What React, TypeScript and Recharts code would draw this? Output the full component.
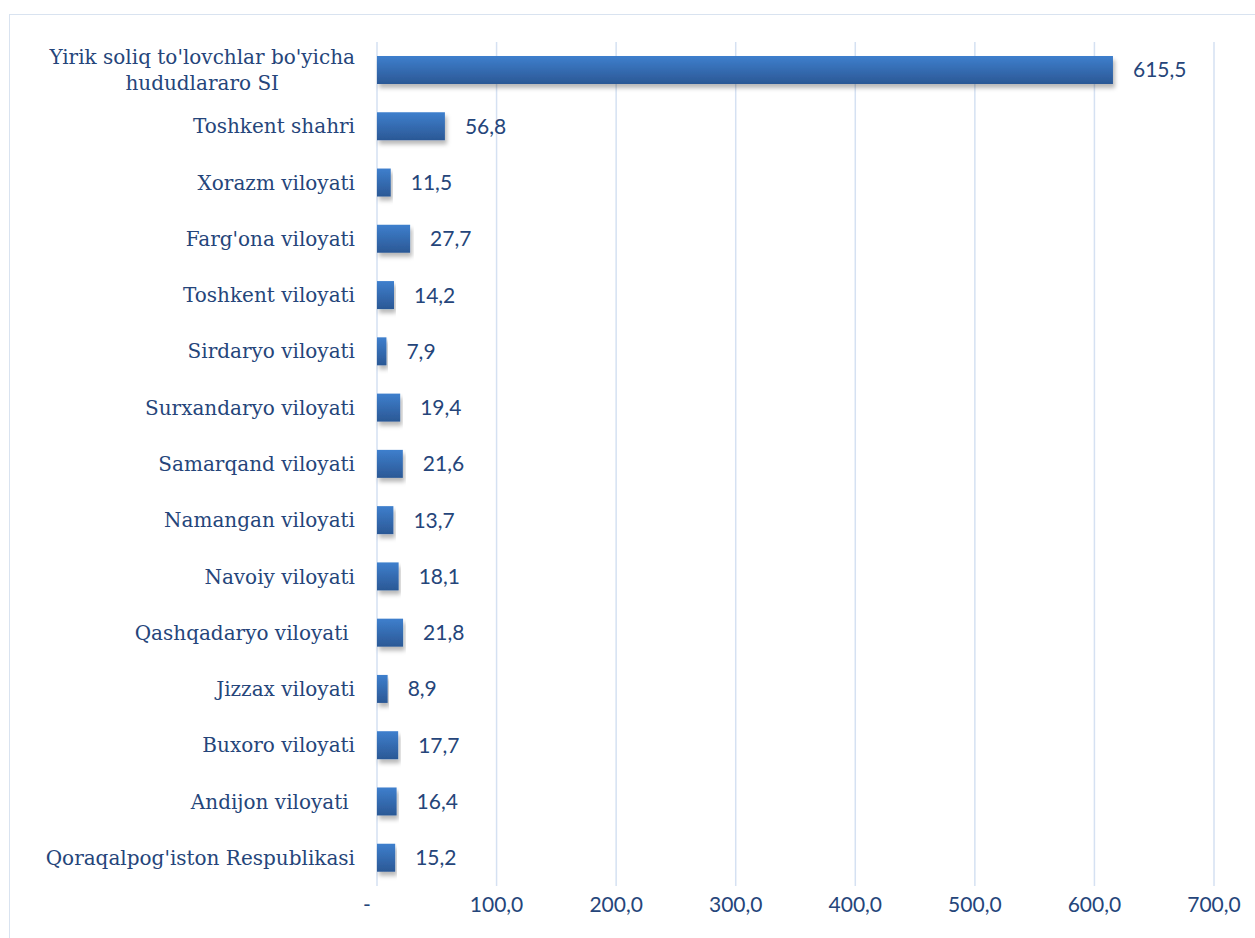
import React from 'react'
import { BarChart, Bar, XAxis, YAxis, CartesianGrid, LabelList } from 'recharts'

const regions: string[] = [
  "Yirik soliq to'lovchlar bo'yicha hududlararo SI",
  'Toshkent shahri',
  'Xorazm viloyati',
  "Farg'ona viloyati",
  'Toshkent viloyati',
  'Sirdaryo viloyati',
  'Surxandaryo viloyati',
  'Samarqand viloyati',
  'Namangan viloyati',
  'Navoiy viloyati',
  'Qashqadaryo viloyati\u00a0',
  'Jizzax viloyati',
  'Buxoro viloyati',
  'Andijon viloyati\u00a0',
  "Qoraqalpog'iston Respublikasi",
]

const amounts: number[] = [615.5, 56.8, 11.5, 27.7, 14.2, 7.9, 19.4, 21.6, 13.7, 18.1, 21.8, 8.9, 17.7, 16.4, 15.2]

const xTicks: number[] = [0, 100, 200, 300, 400, 500, 600, 700]

const data = regions.map((name, i) => ({ name, value: amounts[i] }))

const TEXT = '#25457a'
const LABEL_FONT = "'DejaVu Serif', serif"
const NUM_FONT = "Lato, 'Open Sans', sans-serif"
const LABEL_SIZE = 20
const NUM_SIZE = 21

const fmt = (v: number) => v.toFixed(1).replace('.', ',')

let ctx: CanvasRenderingContext2D | null = null
function textWidth(s: string) {
  if (!ctx) ctx = document.createElement('canvas').getContext('2d')
  if (!ctx) return s.length * 10
  ctx.font = `${LABEL_SIZE}px ${LABEL_FONT}`
  return ctx.measureText(s).width
}

function wrap(s: string, max = 32) {
  const words = s.split(' ')
  const lines: string[] = []
  let cur = ''
  for (const w of words) {
    const next = cur ? cur + ' ' + w : w
    if (next.length > max && cur) {
      lines.push(cur)
      cur = w
    } else cur = next
  }
  if (cur) lines.push(cur)
  return lines
}

function CategoryTick(props: any) {
  const { x, y, payload } = props
  const right = x - 14
  const lines = wrap(payload.value)
  if (lines.length === 1) {
    return (
      <text x={right} y={y} textAnchor="end" dominantBaseline="central" fill={TEXT}
        fontFamily={LABEL_FONT} fontSize={LABEL_SIZE}>{lines[0]}</text>
    )
  }
  const maxW = Math.max(...lines.map(textWidth))
  const cx = right - maxW / 2
  const lh = 26
  const top = y - ((lines.length - 1) * lh) / 2
  return (
    <text textAnchor="middle" fill={TEXT} fontFamily={LABEL_FONT} fontSize={LABEL_SIZE}>
      {lines.map((l, i) => (
        <tspan key={i} x={cx} y={top + i * lh} dominantBaseline="central">{l}</tspan>
      ))}
    </text>
  )
}

function ValueTick(props: any) {
  const { x, y, payload } = props
  const v = payload.value
  return (
    <text x={v === 0 ? x - 10 : x} y={y + 9} textAnchor="middle" dominantBaseline="central"
      fill={TEXT} fontFamily={NUM_FONT} fontSize={NUM_SIZE}>{v === 0 ? '-' : fmt(v)}</text>
  )
}

export default function App() {
  return (
    <div style={{ position: 'absolute', left: 0, top: 0, width: 1255, height: 938, overflow: 'hidden', background: '#fff' }}>
      <div style={{ position: 'absolute', left: 9, top: 14, width: 1260, height: 940, border: '1.5px solid #d9e3f0' }} />
      <div style={{ position: 'absolute', left: 0, top: 0 }}>
        <BarChart width={1255} height={938} data={data} layout="vertical"
          margin={{ top: 42, right: 41, bottom: 0, left: 0 }} barCategoryGap={0}>
          <defs>
            <linearGradient id="barGrad" x1="0" y1="0" x2="0" y2="1">
              <stop offset="0%" stopColor="#3e7fcd" />
              <stop offset="100%" stopColor="#2b5895" />
            </linearGradient>
            <filter id="shadow" x="-5%" y="-20%" width="115%" height="160%">
              <feDropShadow dx="2" dy="4" stdDeviation="2" floodColor="#000" floodOpacity="0.28" />
            </filter>
          </defs>
          <CartesianGrid horizontal={false} vertical stroke="#d5e1f2" strokeWidth={1.5} />
          <XAxis type="number" domain={[0, 700]} ticks={xTicks} height={52}
            axisLine={false} tickLine={false} tick={<ValueTick />} interval={0} />
          <YAxis type="category" dataKey="name" width={377} axisLine={false} tickLine={false}
            tick={<CategoryTick />} interval={0} />
          <Bar dataKey="value" barSize={28} fill="url(#barGrad)" filter="url(#shadow)" isAnimationActive={false}>
            <LabelList dataKey="value" position="right" offset={20} formatter={(v: any) => fmt(Number(v))}
              fill={TEXT} fontFamily={NUM_FONT} fontSize={NUM_SIZE} />
          </Bar>
        </BarChart>
      </div>
    </div>
  )
}
